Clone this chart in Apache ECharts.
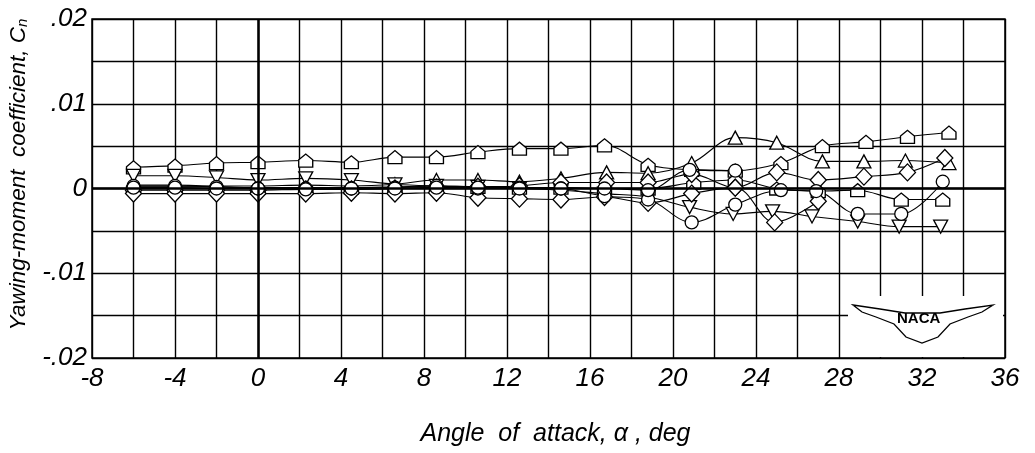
<!DOCTYPE html>
<html><head><meta charset="utf-8">
<script src="https://cdn.jsdelivr.net/npm/echarts@6/dist/echarts.min.js"></script>
<style>html,body{margin:0;padding:0;background:#fff}#c{width:1035px;height:453px}</style>
</head><body><div id="c"></div>
<script>
// Angle of attack (deg) for each series
const xPentA = [-6,-4,-2,0,2.3,4.5,6.6,8.6,10.6,12.6,14.6,16.7,18.8,20.9,23.0,25.2,27.2,29.3,31.3,33.3];
const yPentA = [.0025,.0027,.0030,.0031,.0033,.0031,.0037,.0037,.0043,.0047,.0047,.0051,.0028,.0022,.0021,.0030,.0050,.0055,.0061,.0066];

const xPentB = [-6,-4,-2,0,2.3,4.5,6.6,8.6,10.6,12.6,14.6,16.7,18.8,21.0,23.0,25.0,27.0,28.9,31.0,33.0];
const yPentB = [.0002,.0002,.0002,.0001,.0001,.0001,.0002,.0003,.0002,.0001,.0001,.0000,.0000,.0007,.0010,.0000,-.0003,-.0002,-.0013,-.0013];

const xTriUp = [-6,-4,-2,0,2.3,4.5,6.6,8.6,10.6,12.6,14.6,16.8,18.8,20.9,23.0,25.0,27.2,29.2,31.2,33.3];
const yTriUp = [.0004,.0004,.0003,.0003,.0004,.0003,.0005,.0010,.0010,.0008,.0012,.0019,.0018,.0030,.0060,.0054,.0032,.0032,.0033,.0030];

const xTriDn = [-6,-4,-2,0,2.3,4.5,6.6,8.6,10.6,12.6,14.6,16.7,18.8,20.8,22.9,24.8,26.7,28.9,30.9,32.9];
const yTriDn = [.0015,.0015,.0013,.0010,.0012,.0010,.0005,.0003,.0002,.0000,-.0002,-.0006,-.0010,-.0022,-.0030,-.0027,-.0033,-.0039,-.0045,-.0045];

const xDiaA = [-6,-4,-2,0,2.3,4.5,6.6,8.6,10.6,12.6,14.6,16.8,18.8,20.9,23.0,25.0,27.0,29.2,31.3,33.1];
const yDiaA = [-.0002,-.0002,-.0002,-.0002,-.0001,-.0001,.0000,.0001,.0002,.0003,.0007,.0007,.0007,.0017,.0001,.0019,.0010,.0014,.0019,.0036];

const xDiaB = [-6,-4,-2,0,2.3,4.5,6.6,8.6,10.6,12.6,14.6,16.7,18.8,20.9,23.0,24.9,27.0];
const yDiaB = [-.0006,-.0006,-.0006,-.0006,-.0006,-.0005,-.0006,-.0005,-.0011,-.0012,-.0013,-.0010,-.0017,-.0006,.0001,-.0040,-.0015];

const xCirc = [-6,-4,-2,0,2.3,4.5,6.6,8.6,10.6,12.6,14.6,16.7,18.8,20.9,23.0,25.2,26.9,28.9,31.0,33.0];
const yCirc = [.0003,.0003,.0002,.0000,.0000,.0000,.0001,.0003,.0000,.0001,.0000,-.0009,-.0013,-.0040,-.0019,-.0002,-.0003,-.0030,-.0030,.0008];

const xCirc2 = [-6,-4,-2,0,2.3,4.5,6.6,8.6,10.6,12.6,14.6,16.7,18.8,20.8,23.0];
const yCirc2 = [.0001,.0001,.0000,.0000,-.0001,.0000,.0000,.0001,.0001,.0000,.0000,.0000,-.0002,.0022,.0021];

const xTicks = [-8,-4,0,4,8,12,16,20,24,28,32,36];
const yTickLabels = {"0.02":".02","0.01":".01","0":"0","-0.01":"-.01","-0.02":"-.02"};

const PENT = 'path://M0,10 L0,4.5 L5,0 L10,4.5 L10,10 Z';
const FONT = 'Liberation Sans';

function pts(xs, ys){ return xs.map((x,i)=>[x, ys[i]]); }
function ser(name, xs, ys, symbol, size, rot){
  return {
    name, type:'line', data: pts(xs, ys), smooth: 0.35,
    symbol, symbolSize: size, symbolRotate: rot||0, showAllSymbol: true,
    lineStyle:{color:'#000', width:1.1},
    itemStyle:{color:'#fff', borderColor:'#000', borderWidth:1.3},
    z: 3
  };
}

const chart = echarts.init(document.getElementById('c'), null, {renderer:'canvas'});
const series = [
  ser('pentA', xPentA, yPentA, PENT, [14,13]),
  ser('pentB', xPentB, yPentB, PENT, [14,13]),
  ser('triUp', xTriUp, yTriUp, 'triangle', [14,13]),
  ser('triDn', xTriDn, yTriDn, 'triangle', [14,13], 180),
  ser('diaA', xDiaA, yDiaA, 'diamond', [16,17]),
  ser('diaB', xDiaB, yDiaB, 'diamond', [16,17]),
  ser('circ', xCirc, yCirc, 'circle', 13),
  ser('circ2', xCirc2, yCirc2, 'circle', 13)
];
series[0].markLine = {
  silent:true, symbol:'none', label:{show:false},
  lineStyle:{color:'#000', width:2.5, type:'solid'},
  data:[{xAxis:0},{yAxis:0}]
};

chart.setOption({
  animation:false,
  backgroundColor:'#fff',
  grid:{left:92, right:30, top:19, bottom:95, containLabel:false, outerBoundsMode:'none',
        show:true, borderColor:'#000', borderWidth:1.5},
  xAxis:{
    type:'value', min:-8, max:36, interval:2,
    name:'Angle  of  attack, α , deg', nameLocation:'middle', nameGap:64,
    nameTextStyle:{fontFamily:FONT, fontStyle:'italic', fontSize:25, color:'#000', padding:[0,0,0,14]},
    axisLine:{show:false}, axisTick:{show:false},
    splitLine:{show:true, lineStyle:{color:'#000', width:1.4}},
    axisLabel:{fontFamily:FONT, fontStyle:'italic', fontSize:26, color:'#000', margin:8,
      formatter:v=> xTicks.indexOf(v)>=0 ? String(v) : ''}
  },
  yAxis:{
    type:'value', min:-0.02, max:0.02, interval:0.005,
    name:'Yawing-moment  coefficient, {s|C}{sub|n}', nameLocation:'middle', nameGap:62,
    nameTextStyle:{fontFamily:FONT, fontStyle:'italic', fontSize:22.5, color:'#000', padding:[0,0,0,28],
      rich:{s:{fontFamily:FONT, fontStyle:'italic', fontSize:22.5, color:'#000'},
            sub:{fontFamily:FONT, fontStyle:'italic', fontSize:15, color:'#000', verticalAlign:'bottom', padding:[7,0,0,0]}}},
    axisLine:{show:false}, axisTick:{show:false},
    splitLine:{show:true, lineStyle:{color:'#000', width:1.4}},
    axisLabel:{fontFamily:FONT, fontStyle:'italic', fontSize:26, color:'#000', margin:5,
      formatter:v=>{ const k=String(Math.round(v*1000)/1000); return yTickLabels[k]!==undefined? yTickLabels[k] : ''; }}
  },
  series,
  graphic:[
    {type:'rect', shape:{x:848, y:296, width:155, height:61}, style:{fill:'#fff'}, z:10},
    {type:'polygon', shape:{points:[[853,305],[880,309],[905,313],[940,313],[965,309],[993,305],[982,312],[968,317],[950,324],[938,337],[922,343],[906,337],[894,324],[876,317],[862,312]]},
      style:{fill:'#fff', stroke:'#000', lineWidth:1.3}, z:11},
    {type:'text', left:897, top:311, style:{text:'NACA', font:'bold 15px "Liberation Sans"', fill:'#000'}, z:12}
  ]
});
</script></body></html>
